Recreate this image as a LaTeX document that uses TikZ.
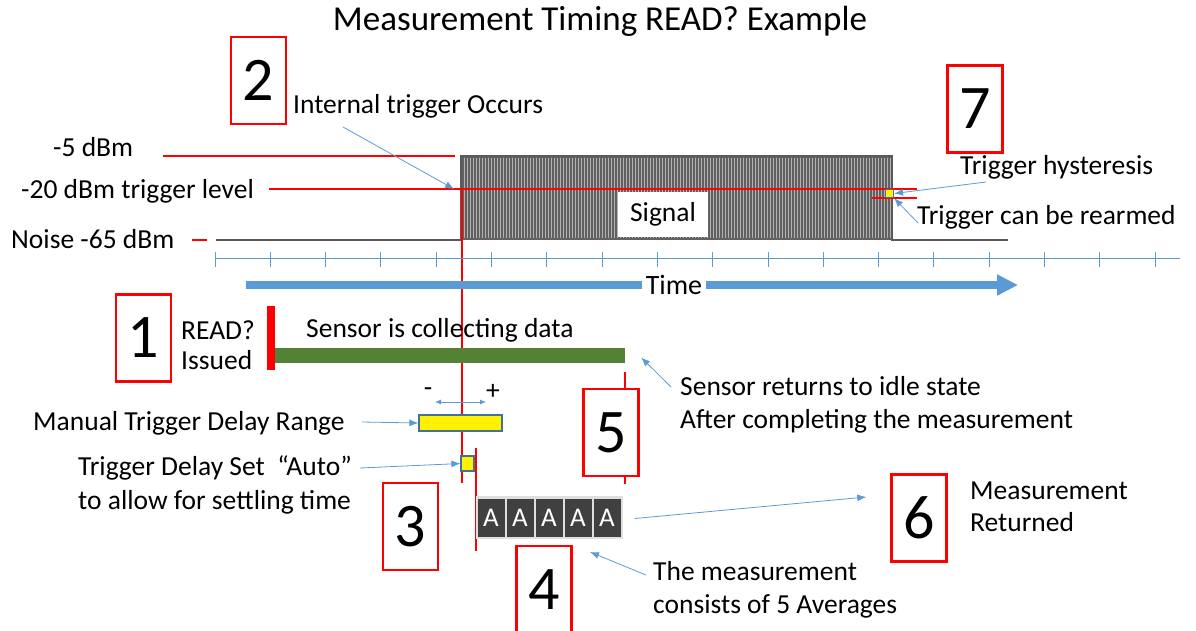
\documentclass[tikz,border=0pt]{standalone}
\usepackage{fontspec}
\setmainfont{Carlito}
\usetikzlibrary{arrows.meta,positioning,calc}
\definecolor{offblue}{RGB}{91,155,213}
\definecolor{offgreen}{RGB}{84,130,53}
\definecolor{boxedge}{RGB}{65,113,156}
\definecolor{avgfill}{RGB}{64,64,64}
\definecolor{sigedge}{RGB}{89,89,89}
\definecolor{lvlred}{RGB}{255,0,0}
\newcommand{\lblfont}{\fontsize{27.5}{30}\selectfont}

\begin{document}
\begin{tikzpicture}[x=1pt,y=-1pt,
  numbox/.style={draw=red,line width=2.5pt,minimum width=55pt,minimum height=87pt,
                 inner sep=0pt,font=\fontsize{62}{62}\selectfont},
  lbl/.style={anchor=west,inner sep=0pt,align=left,font=\lblfont},
  callout/.style={draw=offblue,line width=0.8pt,-{Latex[length=9pt,width=7pt]}},
  lvl/.style={draw=lvlred,line width=1.2pt},
  ybox/.style={fill=yellow,draw=boxedge,line width=1.2pt,inner sep=0pt},
  avg/.style={fill=avgfill,minimum width=27pt,minimum height=38pt,inner sep=0pt,
              text=white,font=\fontsize{27}{27}\selectfont}
]
\useasboundingbox (0,0) rectangle (1196,630);

\node[font=\fontsize{35}{36}\selectfont] (title) at (600,21) {Measurement Timing READ? Example};

% power levels
\node[lbl] (lvlhigh)  at (53,147) {-5 dBm};
\node[lbl] (lvltrig)  at (21,191) {-20 dBm trigger level};
\node[lbl] (lvlnoise) at (11,239) {Noise -65 dBm};
\draw[lvl] (163,156) -- (455,156);
\draw[lvl] (192,240) -- (207,240);

% signal burst
\fill[black!62] (461,156) rectangle (892,240);
\foreach \x in {464,467,...,890} \draw[white!70!black,line width=0.9pt] (\x,158) -- (\x,238);
\draw[sigedge,line width=2.5pt] (216,240) -- (461,240) -- (461,156) -- (892,156) -- (892,240) -- (1008,240);
\node[fill=white,minimum width=90pt,minimum height=45pt,font=\lblfont] (signal) at (663,214.5) {Signal};
\draw[lvl] (269,189) -- (917,189);
\draw[lvl] (872,198) -- (917,198);
\node[ybox,minimum width=8pt,minimum height=8pt] (hyst) at (889.5,193.5) {};
\draw[lvl] (462,189) -- (462,483);

% time axis
\draw[offblue,line width=1pt] (215,258) -- (1180,258);
\foreach \i in {0,...,17} \draw[offblue,line width=1pt] (215+55.3*\i,252) -- (215+55.3*\i,267);
\node[font=\fontsize{28}{28}\selectfont] (time) at (674,285) {Time};
\coordinate (tstart) at (246,285);
\coordinate (tend) at (1018,285);
\draw[offblue,line width=8pt] (tstart) -- (time.west);
\draw[offblue,line width=8pt,-{Triangle[length=21pt,width=20pt]}] (time.east) -- (tend);

% numbered steps
\node[numbox] (n1) at (143.5,338) {1};
\node[numbox] (n2) at (258.5,80.5) {2};
\node[numbox] (n3) at (410.5,526.5) {3};
\node[numbox] (n4) at (544,589.5) {4};
\node[numbox] (n5) at (611,432.5) {5};
\node[numbox] (n6) at (919,518) {6};
\node[numbox] (n7) at (975,109) {7};

% 2: trigger
\node[lbl] (inttrig) at (293,106) {Internal trigger Occurs};
\coordinate (trigpt) at (454,189);
\draw[callout] (343,127) -- (trigpt);

% 7: hysteresis
\node[lbl] (hysttxt) at (960,167) {Trigger hysteresis};
\node[lbl] (rearm)   at (917,217) {Trigger can be rearmed};
\draw[callout] (986,182) -- (hyst.east);
\draw[callout] (918,223) -- (hyst.south east);

% 1: READ? issued
\node[lbl] (readq) at (181,345) {READ?\\Issued};
\fill[red] (267,306) rectangle (275,370);
\node[fill=offgreen,minimum width=350pt,minimum height=15pt,inner sep=0pt] (collect) at (450,355.5) {};
\node[lbl] (colltxt) at (306,330) {Sensor is collecting data};

% 5: idle
\draw[lvl] (625,372) -- (625,389);
\draw[lvl] (625,476) -- (625,484);
\node[lbl,font=\fontsize{27.5}{33}\selectfont] (idle) at (680,405) {Sensor returns to idle state\\After completing the measurement};
\draw[callout] (671,387) -- ($(collect.east)+(16,2)$);

% trigger delay
\node[ybox,minimum width=83pt,minimum height=16pt] (manual) at (460.5,423) {};
\node[font=\lblfont,inner sep=0pt] (dminus) at (428,392) {-};
\node[font=\lblfont,inner sep=0pt] (dplus)  at (493,392) {+};
\coordinate (dl) at (435,402);
\coordinate (dr) at (486,402);
\draw[offblue,line width=0.8pt,{Latex[length=6pt,width=5pt]}-{Latex[length=6pt,width=5pt]}] (dl) -- (dr);
\node[lbl] (mantxt) at (33,423) {Manual Trigger Delay Range};
\draw[callout] (362,422) -- (manual.west);

\node[ybox,minimum width=13pt,minimum height=15pt] (autodly) at (467.5,463.5) {};
\node[lbl,font=\fontsize{27.5}{34}\selectfont] (autotxt) at (78,485) {Trigger Delay Set~~“Auto”\\to allow for settling time};
\draw[callout] (360,468) -- (autodly.west);
\draw[lvl] (476,448) -- (476,551);

% 4: averages
\fill[gray!25] (476,496) rectangle (623,539);
\foreach \i in {1,...,5} \node[avg] (a\i) at (491+29*\i-29,517.5) {A};
\node[lbl,font=\fontsize{27.5}{33}\selectfont] (avgtxt) at (653,590) {The measurement\\consists of 5 Averages};
\draw[callout] (646,575) -- (590,552);

% 6: returned
\node[lbl,font=\fontsize{27.5}{32}\selectfont] (rettxt) at (970,507) {Measurement\\Returned};
\draw[callout] ($(a5.east)+(14,1)$) -- ($(n6.west)+(-24,-21)$);
\end{tikzpicture}
\end{document}
